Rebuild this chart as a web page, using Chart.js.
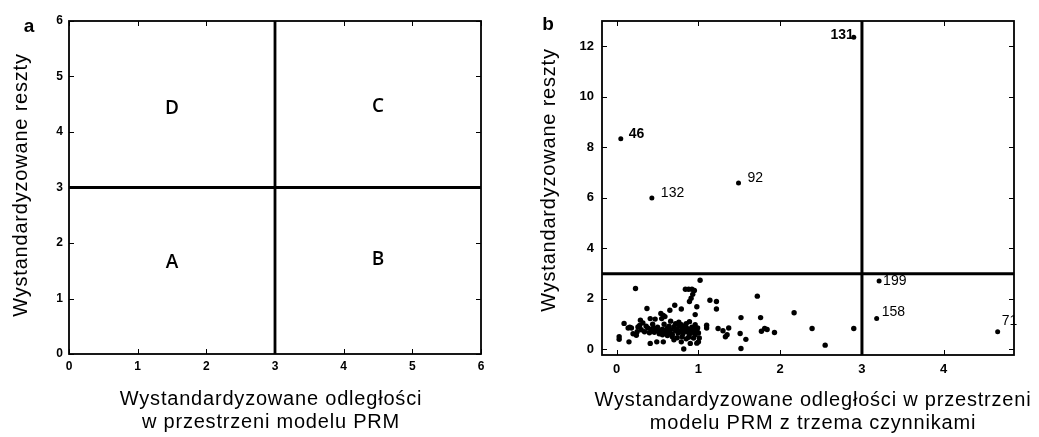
<!DOCTYPE html>
<html>
<head>
<meta charset="utf-8">
<script src="https://cdn.jsdelivr.net/npm/chart.js@4.4.1/dist/chart.umd.min.js"></script>
<style>
  html, body { margin: 0; padding: 0; background: #fff; }
  #wrap { position: relative; width: 1039px; height: 437px; font-family: 'Liberation Sans', Arial, sans-serif; color: #000; }
  .panel { position: absolute; top: 0; width: 519px; height: 437px; }
  .txt { position: absolute; white-space: nowrap; transform: translate(-50%, -50%); }
  .title { font-size: 20px; letter-spacing: 0.8px; line-height: 23px; text-align: center; }
  .ytitle { transform: translate(-50%, -50%) rotate(-90deg); }
  .tag { font-size: 19px; font-weight: bold; }
</style>
</head>
<body>
<div id="wrap">
  <div class="panel" style="left:0"><canvas id="chartA" width="519" height="437"></canvas></div>
  <div class="panel" style="left:520px"><canvas id="chartB" width="519" height="437"></canvas></div>

  <div class="txt tag" style="left:29px; top:26px">a</div>
  <div class="txt tag" style="left:548px; top:24px">b</div>

  <div class="txt title ytitle" style="left:20px; top:185px">Wystandardyzowane reszty</div>
  <div class="txt title" style="left:271px; top:410px">Wystandardyzowane odległości<br>w przestrzeni modelu PRM</div>

  <div class="txt title ytitle" style="left:548px; top:180px">Wystandardyzowane reszty</div>
  <div class="txt title" style="left:813px; top:411px">Wystandardyzowane odległości w przestrzeni<br>modelu PRM z trzema czynnikami</div>
</div>

<script>
// panel a: quadrant scheme
const aRange = [0, 6];
const aCut = 3;
const quadLetters = ['A', 'B', 'C', 'D'];
const quadX = [1.5, 4.5, 4.5, 1.5];
const quadY = [1.65, 1.7, 4.45, 4.42];

// panel b: labelled outliers
const outNames = ['46', '132', '92', '131', '199', '158', '71'];
const outX = [0.05, 0.43, 1.49, 2.90, 3.21, 3.18, 4.66];
const outY = [8.34, 5.99, 6.59, 12.36, 2.71, 1.22, 0.70];

// panel b: unlabelled points
const ptX = [
  0.23, 1.02, 0.37, 0.09, 0.14, 0.18, 0.03, 0.03, 0.15,
  0.84, 0.88, 0.92, 0.95, 0.93, 0.91, 0.89,
  1.14, 1.22, 1.22, 0.79, 0.71, 0.65, 0.98, 0.96, 0.59, 0.55, 0.47, 0.41, 0.29, 0.32,
  1.10, 1.10, 1.24, 1.30, 1.37, 1.33, 1.35,
  0.82, 1.00, 0.98, 0.90, 0.85, 0.79, 0.74,
  0.41, 0.49, 0.57, 0.24, 0.20, 0.26, 0.30, 0.34,
  1.72, 1.52, 1.76, 2.17, 1.51, 1.58, 1.52, 1.77, 1.81, 1.84, 1.93, 2.39, 2.55, 2.90,
  0.38, 0.42, 0.45, 0.48, 0.50, 0.53, 0.56, 0.58, 0.60, 0.62, 0.64, 0.66, 0.68, 0.70,
  0.72, 0.74, 0.75, 0.77, 0.78, 0.80, 0.81, 0.83, 0.84, 0.86, 0.87, 0.89, 0.90, 0.92,
  0.93, 0.95, 0.96, 0.98, 0.99, 1.00, 0.72, 0.76, 0.85, 0.64, 0.52, 0.46, 0.40, 0.36,
  0.44, 0.58, 0.80, 0.88, 0.94, 0.68, 0.62, 0.56, 0.70, 0.96, 1.01, 0.54, 0.57, 0.89,
  0.79, 0.66, 0.28, 0.25, 0.16
];
const ptY = [
  2.41, 2.74, 1.62, 1.03, 0.85, 0.85, 0.50, 0.40, 0.30,
  2.38, 2.38, 2.38, 2.33, 2.18, 2.03, 1.90,
  1.95, 1.90, 1.60, 1.60, 1.75, 1.55, 1.69, 1.38, 1.30, 1.22, 1.20, 1.22, 1.16, 1.05,
  0.96, 0.85, 0.83, 0.74, 0.85, 0.50, 0.58,
  0.02, 0.30, 0.25, 0.24, 0.42, 0.30, 0.46,
  0.24, 0.30, 0.30, 0.56, 0.62, 0.89, 0.78, 0.70,
  2.11, 1.26, 1.26, 1.45, 0.63, 0.40, 0.04, 0.72, 0.83, 0.79, 0.67, 0.83, 0.17, 0.83,
  0.85, 0.80, 0.85, 0.78, 0.88, 0.72, 0.80, 0.65, 0.75, 0.85, 0.68, 0.78, 0.60, 0.90,
  0.75, 0.82, 0.65, 0.95, 0.72, 0.85, 0.62, 0.78, 0.92, 0.70, 0.82, 0.60, 0.76, 0.88,
  0.68, 0.80, 0.58, 0.72, 0.85, 0.65, 1.02, 1.08, 1.02, 0.92, 0.62, 0.68, 0.66, 0.92,
  1.00, 1.00, 0.50, 0.48, 0.45, 0.50, 0.55, 0.58, 0.38, 0.98, 0.45, 1.42, 1.35, 1.10,
  0.98, 1.12, 0.95, 0.70, 0.88
];
const bXRange = [-0.18, 4.86];
const bYRange = [-0.22, 13];
const bCut = 3;

// label placement (pixels relative to the dot)
const outStyle = [
  { dx: 8, dy: -5, align: 'left', bold: true },
  { dx: 9, dy: -5, align: 'left', bold: false },
  { dx: 9, dy: -5, align: 'left', bold: false },
  { dx: 0, dy: -2, align: 'right', bold: true },
  { dx: 4, dy: 0, align: 'left', bold: false },
  { dx: 5, dy: -6, align: 'left', bold: false },
  { dx: 4, dy: -11, align: 'left', bold: false }
];

const FONT = "'Liberation Sans', Arial, sans-serif";

const boxTicks = {
  id: 'boxTicks',
  afterDatasetsDraw(chart) {
    const { ctx, chartArea: a, scales: { x, y } } = chart;
    ctx.save();
    ctx.strokeStyle = '#000';
    ctx.lineWidth = 1;
    ctx.beginPath();
    x.ticks.forEach(t => {
      const px = Math.round(x.getPixelForValue(t.value)) + 0.5;
      ctx.moveTo(px, a.bottom); ctx.lineTo(px, a.bottom - 5);
      ctx.moveTo(px, a.top); ctx.lineTo(px, a.top + 5);
    });
    y.ticks.forEach(t => {
      const py = Math.round(y.getPixelForValue(t.value)) + 0.5;
      ctx.moveTo(a.left, py); ctx.lineTo(a.left + 5, py);
      ctx.moveTo(a.right, py); ctx.lineTo(a.right - 5, py);
    });
    ctx.stroke();
    ctx.lineWidth = 1.8;
    ctx.strokeRect(a.left, a.top, a.right - a.left, a.bottom - a.top);
    ctx.restore();
  }
};

const quadText = {
  id: 'quadText',
  afterDatasetsDraw(chart) {
    const { ctx, scales: { x, y } } = chart;
    ctx.save();
    ctx.fillStyle = '#000';
    ctx.font = "600 19px 'Open Sans', " + FONT;
    ctx.textAlign = 'center';
    ctx.textBaseline = 'middle';
    quadLetters.forEach((l, i) => ctx.fillText(l, x.getPixelForValue(quadX[i]), y.getPixelForValue(quadY[i])));
    ctx.restore();
  }
};

const outLabels = {
  id: 'outLabels',
  afterDatasetsDraw(chart) {
    const { ctx, scales: { x, y } } = chart;
    ctx.save();
    ctx.fillStyle = '#000';
    ctx.textBaseline = 'middle';
    outNames.forEach((n, i) => {
      const s = outStyle[i];
      ctx.font = (s.bold ? 'bold ' : '') + '14px ' + FONT;
      ctx.textAlign = s.align;
      ctx.fillText(n, x.getPixelForValue(outX[i]) + s.dx, y.getPixelForValue(outY[i]) + s.dy);
    });
    ctx.restore();
  }
};

const axis = (min, max, step, size, fontSize, pad) => ({
  type: 'linear', min, max,
  grid: { display: false, drawTicks: false },
  border: { display: false },
  ticks: { stepSize: step, includeBounds: false, color: '#000', padding: pad, font: { family: FONT, size: fontSize, weight: 'bold' } },
  afterFit: s => { if (s.isHorizontal()) s.height = size; else s.width = size; }
});

const cutLine = (pts, w) => ({
  type: 'line', data: pts, borderColor: '#000', borderWidth: w, pointRadius: 0, fill: false, showLine: true
});

new Chart(document.getElementById('chartA'), {
  type: 'scatter',
  data: {
    datasets: [
      cutLine([{ x: aCut, y: aRange[0] }, { x: aCut, y: aRange[1] }], 2.8),
      cutLine([{ x: aRange[0], y: aCut }, { x: aRange[1], y: aCut }], 2.8)
    ]
  },
  options: {
    responsive: false, animation: false, devicePixelRatio: 1,
    layout: { padding: { left: 0, right: 38, top: 21, bottom: 0 } },
    plugins: { legend: { display: false }, tooltip: { enabled: false } },
    scales: {
      x: axis(aRange[0], aRange[1], 1, 83, 12, 5),
      y: axis(aRange[0], aRange[1], 1, 69, 12, 6)
    }
  },
  plugins: [boxTicks, quadText]
});

new Chart(document.getElementById('chartB'), {
  type: 'scatter',
  data: {
    datasets: [
      { data: ptX.map((v, i) => ({ x: v, y: ptY[i] })), backgroundColor: '#000', borderWidth: 0, pointRadius: 2.7 },
      { data: outX.map((v, i) => ({ x: v, y: outY[i] })), backgroundColor: '#000', borderWidth: 0, pointRadius: 2.5 },
      cutLine([{ x: bCut, y: bYRange[0] }, { x: bCut, y: bYRange[1] }], 3),
      cutLine([{ x: bXRange[0], y: bCut }, { x: bXRange[1], y: bCut }], 3)
    ]
  },
  options: {
    responsive: false, animation: false, devicePixelRatio: 1,
    layout: { padding: { left: 0, right: 25, top: 21, bottom: 0 } },
    plugins: { legend: { display: false }, tooltip: { enabled: false } },
    scales: {
      x: axis(bXRange[0], bXRange[1], 1, 82, 13, 7),
      y: axis(bYRange[0], bYRange[1], 2, 82, 13, 8)
    }
  },
  plugins: [boxTicks, outLabels]
});
</script>
</body>
</html>
